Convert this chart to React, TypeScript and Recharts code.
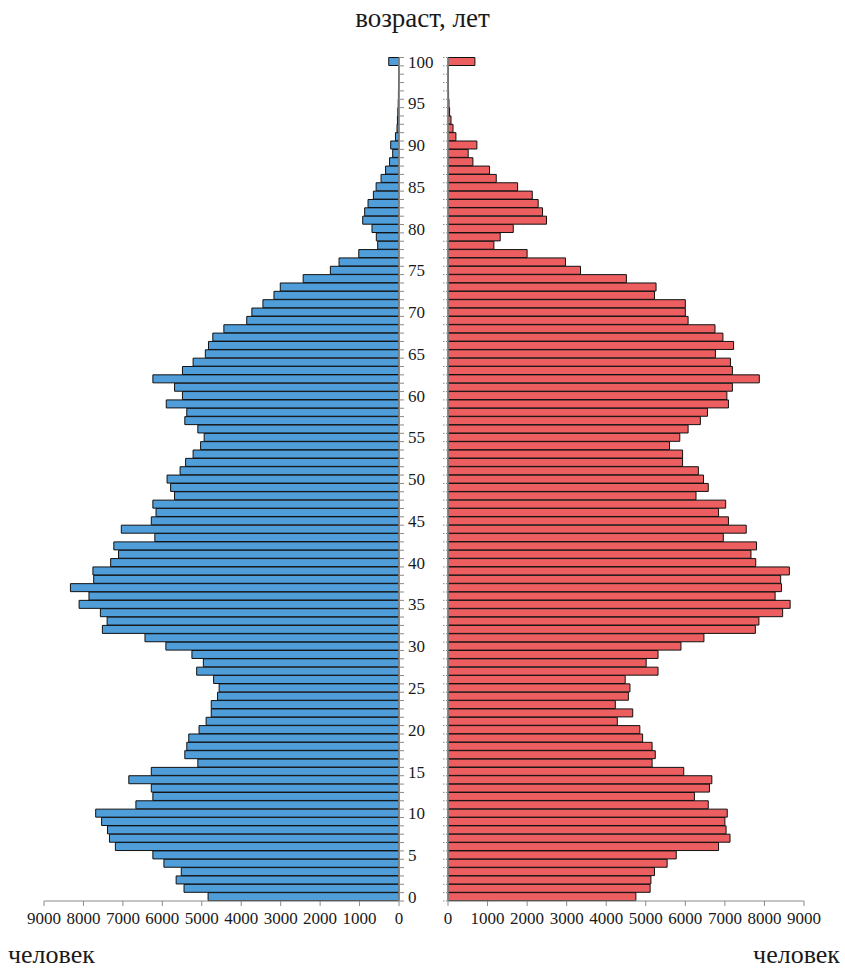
import { BarChart, Bar, XAxis, YAxis } from "recharts";

// возраст, лет (0..100)
const ages = [
  0, 1, 2, 3, 4, 5, 6, 7, 8, 9, 10, 11, 12, 13, 14, 15, 16, 17, 18, 19, 20,
  21, 22, 23, 24, 25, 26, 27, 28, 29, 30, 31, 32, 33, 34, 35, 36, 37, 38, 39, 40,
  41, 42, 43, 44, 45, 46, 47, 48, 49, 50, 51, 52, 53, 54, 55, 56, 57, 58, 59, 60,
  61, 62, 63, 64, 65, 66, 67, 68, 69, 70, 71, 72, 73, 74, 75, 76, 77, 78, 79, 80,
  81, 82, 83, 84, 85, 86, 87, 88, 89, 90, 91, 92, 93, 94, 95, 96, 97, 98, 99, 100,
];

// мужчины, по возрасту 0..100
const male = [
  4840, 5450, 5650, 5520, 5960, 6240, 7190, 7340, 7390, 7540,
  7690, 6670, 6240, 6280, 6850, 6280, 5100, 5430, 5380, 5330,
  5070, 4890, 4760, 4760, 4600, 4560, 4700, 5130, 4960, 5250,
  5910, 6440, 7520, 7400, 7570, 8110, 7860, 8330, 7740, 7760,
  7310, 7110, 7230, 6190, 7040, 6280, 6160, 6240, 5690, 5790,
  5880, 5550, 5410, 5220, 5030, 4940, 5100, 5430, 5380, 5900,
  5490, 5690, 6240, 5490, 5220, 4910, 4830, 4720, 4440, 3860,
  3730, 3450, 3170, 3010, 2430, 1740, 1520, 1020, 540, 575,
  685, 920, 870, 785, 650, 580, 455, 340, 240, 160,
  210, 90, 50, 40, 30, 20, 15, 10, 5, 5,
  260,
];

// женщины, по возрасту 0..100
const female = [
  4750, 5110, 5130, 5220, 5540, 5770, 6840, 7130, 7030, 7000,
  7060, 6580, 6230, 6610, 6670, 5960, 5160, 5240, 5160, 4920,
  4850, 4280, 4670, 4230, 4560, 4600, 4480, 5310, 5010, 5310,
  5890, 6470, 7770, 7860, 8460, 8650, 8270, 8430, 8410, 8630,
  7780, 7660, 7800, 6960, 7540, 7090, 6840, 7020, 6270, 6580,
  6460, 6330, 5930, 5930, 5600, 5860, 6070, 6380, 6560, 7090,
  7050, 7190, 7870, 7190, 7140, 6760, 7220, 6950, 6750, 6070,
  6000, 6000, 5220, 5260, 4510, 3350, 2970, 2000, 1160, 1320,
  1650, 2490, 2390, 2280, 2130, 1760, 1220, 1050, 630, 510,
  730, 200, 127, 76, 40, 25, 15, 5, 5, 5,
  680,
];

const ageLabels = [0, 5, 10, 15, 20, 25, 30, 35, 40, 45, 50, 55, 60, 65, 70, 75, 80, 85, 90, 95, 100];
const xTicks = [0, 1000, 2000, 3000, 4000, 5000, 6000, 7000, 8000, 9000];

const data = ages.map((age, i) => ({ age, male: male[i], female: female[i] }));

const FONT = "'Liberation Serif', 'Times New Roman', serif";
const TEXT = "#1a1a1a";
const AXIS = "#8a8a8a";

const H = 969;
const TOP = 57.5;
const X_AXIS_H = 40;
const BOTTOM = 28;
const BAND = (H - TOP - BOTTOM - X_AXIS_H) / ages.length;

function LeftAgeTick(props: any) {
  const { x, y, payload } = props;
  const half = BAND / 2;
  return (
    <g>
      <line x1={x} x2={x + 5} y1={y + half} y2={y + half} stroke={AXIS} />
      {payload.value === 100 && <line x1={x} x2={x + 5} y1={y - half} y2={y - half} stroke={AXIS} />}
      {ageLabels.includes(payload.value) && (
        <text x={x + 9} y={y} dy="0.35em" fontSize={17} fontFamily={FONT} fill={TEXT}>
          {payload.value}
        </text>
      )}
    </g>
  );
}

function RightAgeTick(props: any) {
  const { x, y, payload } = props;
  const half = BAND / 2;
  return (
    <g>
      <line x1={x - 5} x2={x} y1={y + half} y2={y + half} stroke={AXIS} strokeDasharray="1.5 1.5" />
      {payload.value === 100 && (
        <line x1={x - 5} x2={x} y1={y - half} y2={y - half} stroke={AXIS} strokeDasharray="1.5 1.5" />
      )}
    </g>
  );
}

const tickStyle = { fill: TEXT, fontSize: 17, fontFamily: FONT };

export default function App() {
  return (
    <div style={{ position: "absolute", left: 0, top: 0, width: 845, height: H, background: "#fff", fontFamily: FONT }}>
      <div style={{ position: "absolute", left: 0, top: 2, width: 845, textAlign: "center", fontSize: 27, lineHeight: "32px", color: TEXT }}>
        возраст, лет
      </div>

      <div style={{ position: "absolute", left: 0, top: 0 }}>
        <BarChart
          width={460}
          height={H}
          data={data}
          layout="vertical"
          margin={{ top: TOP, right: 0, bottom: BOTTOM, left: 44 }}
          barCategoryGap={0}
        >
          <XAxis
            type="number"
            domain={[0, 9000]}
            ticks={xTicks}
            reversed
            interval={0}
            height={X_AXIS_H}
            stroke={AXIS}
            tickSize={5}
            tickMargin={6}
            tick={tickStyle}
          />
          <YAxis
            type="category"
            dataKey="age"
            orientation="right"
            reversed
            interval={0}
            width={61}
            stroke={AXIS}
            strokeWidth={1.5}
            tickLine={false}
            tickSize={0}
            tickMargin={0}
            tick={<LeftAgeTick />}
          />
          <Bar dataKey="male" fill="#4F9DD9" stroke="#111" strokeWidth={1} isAnimationActive={false} />
        </BarChart>
      </div>

      <div style={{ position: "absolute", left: 390, top: 0 }}>
        <BarChart
          width={455}
          height={H}
          data={data}
          layout="vertical"
          margin={{ top: TOP, right: 41, bottom: BOTTOM, left: 0 }}
          barCategoryGap={0}
        >
          <XAxis
            type="number"
            domain={[0, 9000]}
            ticks={xTicks}
            interval={0}
            height={X_AXIS_H}
            stroke={AXIS}
            tickSize={5}
            tickMargin={6}
            tick={tickStyle}
          />
          <YAxis
            type="category"
            dataKey="age"
            orientation="left"
            reversed
            interval={0}
            width={58}
            stroke={AXIS}
            strokeWidth={1.5}
            tickLine={false}
            tickSize={0}
            tickMargin={0}
            tick={<RightAgeTick />}
          />
          <Bar dataKey="female" fill="#EC5E60" stroke="#111" strokeWidth={1} isAnimationActive={false} />
        </BarChart>
      </div>

      <div style={{ position: "absolute", left: 8, top: 942, fontSize: 26, lineHeight: "26px", color: TEXT }}>человек</div>
      <div style={{ position: "absolute", right: 5, top: 942, fontSize: 26, lineHeight: "26px", color: TEXT }}>человек</div>
    </div>
  );
}
